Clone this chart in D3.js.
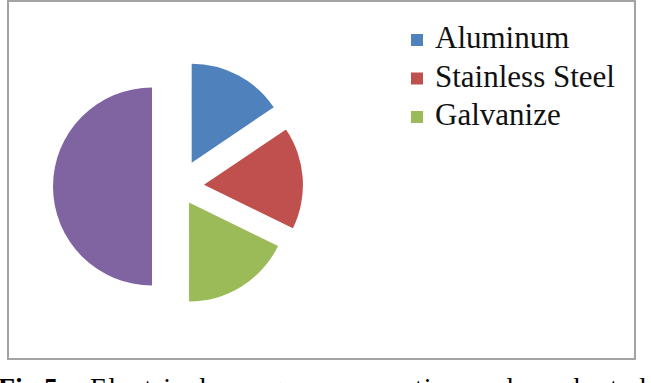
<!DOCTYPE html>
<html>
<head>
<meta charset="utf-8">
<script src="https://cdnjs.cloudflare.com/ajax/libs/d3/7.8.5/d3.min.js"></script>
<style>
  body { margin: 0; background: #fff; overflow: hidden; }
  svg { display: block; }
</style>
</head>
<body>
<div id="chart"></div>
<script>
// chart data
var categories = ["Aluminum", "Stainless Steel", "Galvanize", "Total"];
var values = [14, 15, 16, 45];
var colors = ["#4F81BD", "#C0504D", "#9BBB59", "#8064A2"];
var legendItems = categories.slice(0, 3);
var captionLabel = "Fig 5.";
var captionText = "Electrical energy consumption and conducted";

var svgWidth = 651;
var svgHeight = 383;

// how far each slice is pulled out of the pie (px)
var explode = [27, 25, 19, 27];

var svg = d3.select("#chart")
  .append("svg")
  .attr("width", svgWidth)
  .attr("height", svgHeight);

// chart area border
svg.append("rect")
  .attr("x", 8)
  .attr("y", 1)
  .attr("width", 627)
  .attr("height", 358)
  .attr("fill", "#fff")
  .attr("stroke", "#a3a3a3")
  .attr("stroke-width", 2);

// pie
var cx = 179, cy = 186.5;
var radius = 99;

var pie = d3.pie()
  .sort(null)
  .value(d => d);

var arc = d3.arc()
  .innerRadius(0)
  .outerRadius(radius);

var pieGroup = svg.append("g")
  .attr("transform", `translate(${cx}, ${cy})`);

pieGroup.selectAll("path")
  .data(pie(values))
  .enter()
  .append("path")
  .attr("d", arc)
  .attr("fill", (d, i) => colors[i])
  .attr("transform", function(d, i) {
    var mid = (d.startAngle + d.endAngle) / 2;
    return `translate(${explode[i] * Math.sin(mid)}, ${-explode[i] * Math.cos(mid)})`;
  });

// legend
var legend = svg.append("g")
  .attr("transform", "translate(411, 48)");

var legendRows = legend.selectAll("g")
  .data(legendItems)
  .enter()
  .append("g")
  .attr("transform", (d, i) => `translate(0, ${i * 38.5})`);

legendRows.append("rect")
  .attr("x", 0)
  .attr("y", -14)
  .attr("width", 12)
  .attr("height", 12)
  .attr("fill", (d, i) => colors[i]);

legendRows.append("text")
  .attr("x", 24)
  .attr("y", 0)
  .attr("font-family", "'Liberation Serif', 'Times New Roman', serif")
  .attr("font-size", "31px")
  .attr("fill", "#111")
  .text(d => d);

// caption, cut off at the bottom of the picture as in the source
svg.append("text")
  .attr("x", -2)
  .attr("y", 397)
  .attr("font-family", "'Liberation Serif', 'Times New Roman', serif")
  .attr("font-size", "28px")
  .attr("font-weight", "bold")
  .attr("fill", "#000")
  .text(captionLabel);

svg.append("text")
  .attr("x", 90)
  .attr("y", 397)
  .attr("font-family", "'Liberation Serif', 'Times New Roman', serif")
  .attr("font-size", "28px")
  .attr("fill", "#000")
  .attr("textLength", 556)
  .attr("lengthAdjust", "spacing")
  .text(captionText);
</script>
</body>
</html>
